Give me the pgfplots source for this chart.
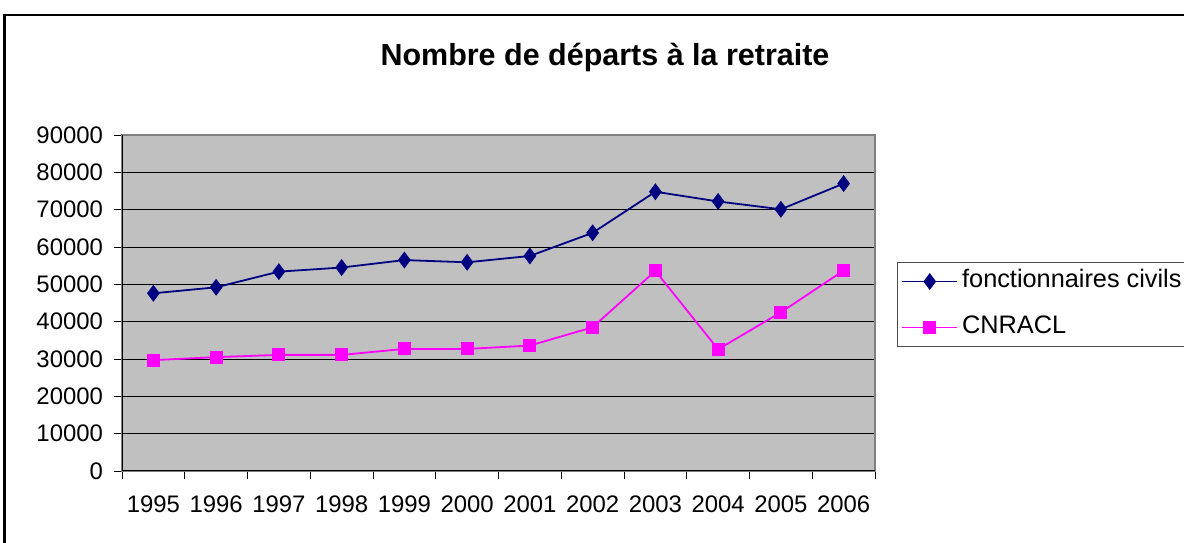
\documentclass[border=0pt]{standalone}
\usepackage{pgfplots}
\pgfplotsset{compat=1.18}
\usepackage{fontspec}
\setmainfont{Liberation Sans}
\definecolor{bgGray}{HTML}{C0C0C0}
\definecolor{navyC}{HTML}{000080}
\definecolor{magC}{HTML}{FF00FF}
\pgfplotstableread{
x fc cnracl
0 47600 29700
1 49200 30500
2 53400 31100
3 54500 31100
4 56500 32700
5 55900 32700
6 57600 33600
7 63800 38500
8 74800 53600
9 72200 32600
10 70100 42500
11 77000 53700
}\datatable
\begin{document}
\begin{tikzpicture}
\useasboundingbox (0,0) rectangle (592bp,271.5bp);
\draw[line width=1.2bp] (2.3bp,-5bp) rectangle (600bp,264bp);
\node[font=\bfseries\fontsize{15.3}{17}\selectfont] at (302.5bp,243bp) {Nombre de départs à la retraite};
\begin{axis}[
 at={(61bp,36bp)}, anchor=south west,
 scale only axis, width=376.5bp, height=168bp,
 xmin=-0.5, xmax=11.5, ymin=0, ymax=90000,
 xtick={0,...,11}, xticklabels={1995,1996,1997,1998,1999,2000,2001,2002,2003,2004,2005,2006},
 major x tick style={draw=none},
 minor xtick={-0.5,0.5,...,11.5},
 ytick={0,10000,...,90000},
 xtick pos=left, ytick pos=left,
 tick align=outside,
 major tick length=4bp, minor tick length=4bp,
 tick style={black, line width=0.5bp},
 ymajorgrids, grid style={black, line width=0.5bp},
 axis background/.style={fill=bgGray},
 axis line style={draw=gray, line width=0.8bp},
 /pgf/number format/assume math mode=true,
 /pgf/number format/set thousands separator={},
 scaled y ticks=false,
 ticklabel style={font=\fontsize{12}{14}\selectfont},
 yticklabel style={xshift=-2bp},
 xticklabel style={yshift=-5bp},
 legend style={at={(1.029,0.622)}, anchor=north west, draw=black!70, line width=0.5bp,
   font=\fontsize{12.7}{14}\selectfont, row sep=8bp, inner sep=2bp,
   nodes={inner sep=2bp, text height=8.5bp, text depth=2.5bp}},
 legend cell align=left,
 legend image code/.code={\draw[mark repeat=2,mark phase=2,#1] plot coordinates {(0bp,0bp) (13.75bp,0bp) (27.5bp,0bp)};},
]
\addplot[navyC, line width=0.9bp, mark=diamond*, mark size=3.5bp, mark options={fill=navyC}] table[x=x,y=fc] {\datatable};
\addlegendentry{fonctionnaires civils}
\addplot[magC, line width=0.9bp, mark=square*, mark size=2.8bp, mark options={fill=magC}] table[x=x,y=cnracl] {\datatable};
\addlegendentry{CNRACL}
\draw[black, line width=0.8bp] (axis description cs:0,1) -- (axis description cs:0,0) -- (axis description cs:1,0);
\end{axis}
\end{tikzpicture}
\end{document}
